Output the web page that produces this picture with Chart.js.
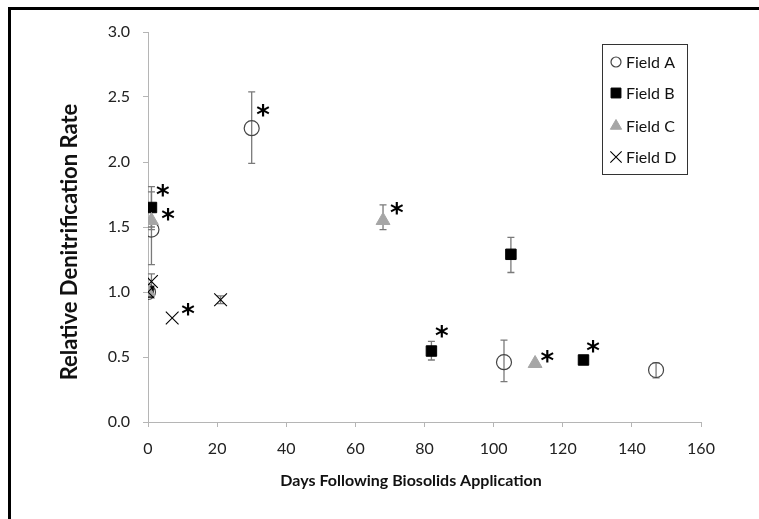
<!DOCTYPE html>
<html>
<head>
<meta charset="utf-8">
<script src="https://cdn.jsdelivr.net/npm/chart.js@4"></script>
<style>
  body { margin: 0; background: #fff; }
  #wrap { position: relative; width: 759px; height: 519px; }
</style>
</head>
<body>
<div id="wrap"><canvas id="denitChart" width="759" height="519"></canvas></div>
<script>
// values
var fieldA_x = [0, 1, 30, 103, 147];
var fieldA_y = [1.0, 1.48, 2.26, 0.46, 0.40];
var fieldA_hi = [null, 1.77, 2.54, 0.63, 0.455];
var fieldA_lo = [null, 1.21, 1.99, 0.31, 0.34];

var fieldB_x = [0, 1, 82, 105, 126];
var fieldB_y = [1.0, 1.65, 0.546, 1.29, 0.477];
var fieldB_hi = [null, 1.81, 0.62, 1.42, null];
var fieldB_lo = [null, 1.50, 0.477, 1.15, null];

var fieldC_x = [0, 1, 68, 112];
var fieldC_y = [1.0, 1.55, 1.55, 0.45];
var fieldC_hi = [null, 1.62, 1.67, null];
var fieldC_lo = [null, 1.48, 1.48, null];

var fieldD_x = [0, 1, 7, 21];
var fieldD_y = [1.0, 1.08, 0.80, 0.94];
var fieldD_hi = [null, 1.14, null, 0.97];
var fieldD_lo = [null, 1.02, null, 0.91];

// significance marks (data coords of each "*")
var starX = [33.3, 4.3, 5.8, 11.6, 72, 85, 115.5, 128.8];
var starY = [2.38, 1.77, 1.58, 0.85, 1.63, 0.685, 0.49, 0.57];

var xTicks = [0, 20, 40, 60, 80, 100, 120, 140, 160];
var yTicks = [0.0, 0.5, 1.0, 1.5, 2.0, 2.5, 3.0];

var xTitle = 'Days Following Biosolids Application';
var yTitle = 'Relative Denitrification Rate';

function toPoints(xs, ys) {
    return xs.map(function (x, i) { return {x: x, y: ys[i]}; });
}

var errs = [
    {hi: fieldA_hi, lo: fieldA_lo},
    {hi: fieldB_hi, lo: fieldB_lo},
    {hi: fieldC_hi, lo: fieldC_lo},
    {hi: fieldD_hi, lo: fieldD_lo}
];

var frame = {
    id: 'frame',
    beforeDraw: function (chart) {
        var ctx = chart.ctx;
        ctx.save();
        ctx.fillStyle = '#000';
        ctx.fillRect(8, 7, 3, 512);
        ctx.fillRect(8, 7, 751, 3);
        // axis titles
        ctx.fillStyle = '#111';
        ctx.textAlign = 'center';
        ctx.textBaseline = 'middle';
        ctx.font = 'bold 16px Lato';
        ctx.fillText(xTitle, 411, 481);
        ctx.translate(70, 242);
        ctx.rotate(-Math.PI / 2);
        ctx.font = 'bold 22px Lato';
        ctx.fillText(yTitle, 0, 0);
        ctx.restore();
    }
};

var errorBars = {
    id: 'errorBars',
    beforeDatasetsDraw: function (chart) {
        var ctx = chart.ctx;
        var xs = chart.scales.x, ys = chart.scales.y;
        ctx.save();
        ctx.strokeStyle = '#7a7a7a';
        ctx.lineWidth = 1.3;
        chart.data.datasets.forEach(function (ds, di) {
            ds.data.forEach(function (p, i) {
                var hi = errs[di].hi[i], lo = errs[di].lo[i];
                if (hi == null) return;
                var px = xs.getPixelForValue(p.x);
                var yh = ys.getPixelForValue(hi), yl = ys.getPixelForValue(lo);
                ctx.beginPath();
                ctx.moveTo(px, yh); ctx.lineTo(px, yl);
                ctx.moveTo(px - 3.5, yh); ctx.lineTo(px + 3.5, yh);
                ctx.moveTo(px - 3.5, yl); ctx.lineTo(px + 3.5, yl);
                ctx.stroke();
            });
        });
        ctx.restore();
    }
};

var stars = {
    id: 'stars',
    afterDatasetsDraw: function (chart) {
        var ctx = chart.ctx;
        var xs = chart.scales.x, ys = chart.scales.y;
        ctx.save();
        ctx.fillStyle = '#000';
        ctx.font = 'bold 26px "DejaVu Sans"';
        ctx.textAlign = 'center';
        ctx.textBaseline = 'middle';
        for (var i = 0; i < starX.length; i++) {
            ctx.fillText('*', xs.getPixelForValue(starX[i]), ys.getPixelForValue(starY[i]) + 5);
        }
        ctx.restore();
    }
};

var boxLegend = {
    id: 'boxLegend',
    afterDraw: function (chart) {
        var ctx = chart.ctx;
        ctx.save();
        ctx.fillStyle = '#fff';
        ctx.fillRect(602, 44, 85, 130);
        ctx.strokeStyle = '#333';
        ctx.lineWidth = 1;
        ctx.strokeRect(602.5, 44.5, 85, 130);
        var rowY = [62, 93, 126, 157];
        var legendRadius = [5, 7, 6.5, 8];
        ctx.font = '16px Lato';
        ctx.textBaseline = 'middle';
        ctx.textAlign = 'left';
        chart.data.datasets.forEach(function (ds, i) {
            ctx.fillStyle = ds.backgroundColor;
            ctx.strokeStyle = ds.borderColor;
            ctx.lineWidth = ds.borderWidth;
            Chart.helpers.drawPoint(ctx, {
                pointStyle: ds.pointStyle,
                radius: legendRadius[i],
                borderWidth: ds.borderWidth,
                rotation: 0
            }, 616, rowY[i]);
            ctx.fillStyle = '#111';
            ctx.fillText(ds.label, 626, rowY[i] + 1);
        });
        ctx.restore();
    }
};

var ctx = document.getElementById('denitChart');
var myChart = new Chart(ctx, {
    type: 'scatter',
    data: {
        datasets: [{
            label: 'Field A',
            data: toPoints(fieldA_x, fieldA_y),
            pointStyle: 'circle',
            pointRadius: 7.5,
            backgroundColor: 'rgba(0,0,0,0)',
            borderColor: '#444',
            borderWidth: 1.2,
            order: 4
        }, {
            label: 'Field B',
            data: toPoints(fieldB_x, fieldB_y),
            pointStyle: 'rect',
            pointRadius: 7.4,
            backgroundColor: '#000',
            borderColor: '#000',
            borderWidth: 1,
            order: 3
        }, {
            label: 'Field C',
            data: toPoints(fieldC_x, fieldC_y),
            pointStyle: 'triangle',
            pointRadius: 8,
            backgroundColor: '#a6a6a6',
            borderColor: '#a6a6a6',
            borderWidth: 1,
            order: 2
        }, {
            label: 'Field D',
            data: toPoints(fieldD_x, fieldD_y),
            pointStyle: 'crossRot',
            pointRadius: 9,
            backgroundColor: '#000',
            borderColor: '#000',
            borderWidth: 1.1,
            order: 1
        }]
    },
    options: {
        responsive: false,
        animation: false,
        layout: {padding: {left: 10, right: 58, top: 32, bottom: 0}},
        plugins: {
            legend: {display: false},
            tooltip: {enabled: false}
        },
        scales: {
            x: {
                type: 'linear',
                min: 0,
                max: 160,
                afterFit: function (scale) { scale.height = 97; },
                afterBuildTicks: function (scale) {
                    scale.ticks = xTicks.map(function (v) { return {value: v}; });
                },
                grid: {display: true, drawOnChartArea: false, drawTicks: true, tickLength: 5, color: '#b5b5b5'},
                border: {color: '#b5b5b5', width: 1},
                ticks: {color: '#222', font: {family: 'Lato', size: 16}, padding: 12, maxRotation: 0}
            },
            y: {
                type: 'linear',
                min: 0,
                max: 3,
                afterFit: function (scale) { scale.width = 138; },
                afterBuildTicks: function (scale) {
                    scale.ticks = yTicks.map(function (v) { return {value: v}; });
                },
                grid: {display: true, drawOnChartArea: false, drawTicks: true, tickLength: 5, color: '#b5b5b5'},
                border: {color: '#b5b5b5', width: 1},
                ticks: {
                    color: '#222',
                    font: {family: 'Lato', size: 16},
                    padding: 13,
                    callback: function (v) { return v.toFixed(1); }
                }
            }
        }
    },
    plugins: [frame, errorBars, stars, boxLegend]
});
</script>
</body>
</html>
